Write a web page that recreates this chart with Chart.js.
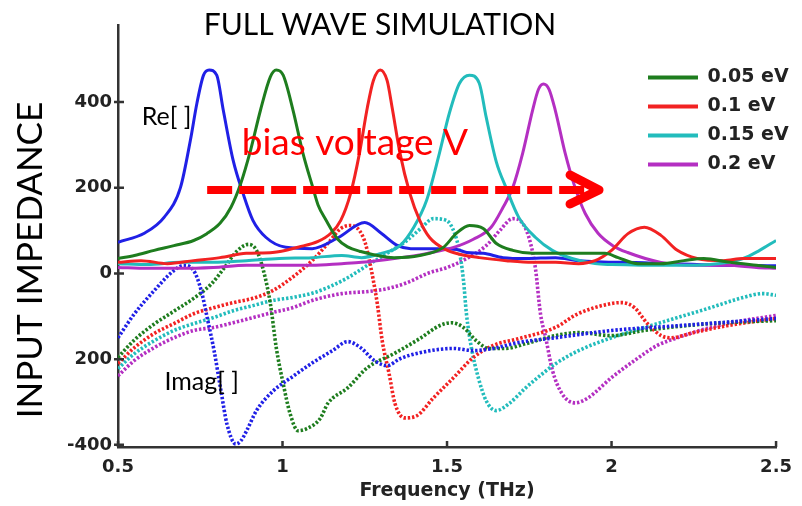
<!DOCTYPE html>
<html>
<head>
<meta charset="utf-8">
<title>Full wave simulation</title>
<script src="https://cdn.jsdelivr.net/npm/chart.js@4/dist/chart.umd.min.js"></script>
<style>
  html, body { margin: 0; padding: 0; background: #fff; }
</style>
</head>
<body>
<canvas id="impedance" width="802" height="506"></canvas>
<script>
// frequency (THz) / impedance pairs for every curve, Re = solid, Imag = dotted
const blueReF = [0.5, 0.58, 0.64, 0.69, 0.72, 0.74, 0.76, 0.777, 0.8, 0.82, 0.85, 0.88, 0.91, 0.95, 1.01, 1.09, 1.17, 1.25, 1.3, 1.35, 1.39, 1.47, 1.53, 1.56, 1.61, 1.67, 1.74, 1.83, 1.9, 2.1, 2.3, 2.5]
const blueRe = [73, 94, 131, 201, 311, 398, 463, 475, 463, 381, 264, 187, 124, 84, 61, 58, 84, 119, 94, 65, 58, 58, 56, 49, 47, 37, 35, 37, 30, 25, 20, 18]
const blueImF = [0.5, 0.55, 0.61, 0.67, 0.7, 0.73, 0.753, 0.771, 0.792, 0.813, 0.831, 0.858, 0.873, 0.891, 0.921, 0.972, 1.032, 1.092, 1.152, 1.198, 1.237, 1.279, 1.318, 1.357, 1.417, 1.52, 1.58, 1.64, 1.718, 1.829, 2.0, 2.2, 2.5]
const blueIm = [-150, -94, -40, 7, 19, 7, -40, -103, -180, -274, -351, -398, -391, -367, -320, -274, -240, -208, -180, -159, -173, -203, -215, -199, -185, -175, -180, -175, -161, -150, -133, -122, -105]

const greenReF = [0.5, 0.55, 0.61, 0.67, 0.73, 0.77, 0.81, 0.843, 0.873, 0.903, 0.933, 0.963, 0.981, 1.002, 1.032, 1.062, 1.092, 1.108, 1.132, 1.168, 1.198, 1.234, 1.339, 1.417, 1.489, 1.529, 1.568, 1.61, 1.65, 1.7, 1.76, 1.83, 1.98, 2.02, 2.08, 2.15, 2.22, 2.28, 2.36, 2.44, 2.5]
const greenRe = [35, 42, 54, 65, 77, 93, 117, 154, 210, 288, 381, 459, 475, 463, 381, 281, 201, 160, 125, 80, 62, 52, 37, 42, 61, 94, 112, 105, 70, 54, 47, 47, 47, 37, 23, 23, 30, 35, 26, 19, 14]
const greenImF = [0.5, 0.55, 0.61, 0.67, 0.73, 0.783, 0.822, 0.861, 0.897, 0.921, 0.942, 0.963, 0.981, 1.002, 1.023, 1.047, 1.071, 1.114, 1.138, 1.198, 1.258, 1.339, 1.417, 1.477, 1.514, 1.55, 1.589, 1.628, 1.679, 1.739, 1.829, 1.9, 2.0, 2.1, 2.3, 2.5]
const greenIm = [-196, -155, -118, -88, -58, -25, 12, 52, 68, 54, 7, -70, -173, -257, -327, -367, -363, -339, -303, -267, -220, -187, -152, -122, -115, -126, -157, -175, -175, -164, -145, -138, -145, -133, -117, -110]

const redReF = [0.5, 0.57, 0.65, 0.73, 0.81, 0.89, 0.97, 1.05, 1.108, 1.147, 1.177, 1.207, 1.234, 1.258, 1.276, 1.297, 1.318, 1.333, 1.357, 1.387, 1.417, 1.447, 1.498, 1.538, 1.598, 1.68, 1.76, 1.83, 1.9, 1.95, 2.0, 2.05, 2.1, 2.15, 2.2, 2.26, 2.34, 2.4, 2.5]
const redRe = [26, 30, 23, 30, 37, 47, 49, 62, 75, 94, 124, 187, 281, 388, 450, 475, 450, 388, 281, 187, 124, 84, 55, 45, 37, 30, 26, 26, 23, 30, 54, 93, 108, 89, 54, 35, 30, 35, 35]
const redImF = [0.5, 0.55, 0.61, 0.67, 0.73, 0.79, 0.85, 0.91, 0.97, 1.03, 1.09, 1.14, 1.177, 1.207, 1.234, 1.252, 1.264, 1.276, 1.288, 1.303, 1.324, 1.342, 1.372, 1.408, 1.459, 1.52, 1.58, 1.64, 1.718, 1.829, 1.898, 2.0, 2.031, 2.07, 2.109, 2.151, 2.181, 2.25, 2.35, 2.5]
const redIm = [-210, -173, -140, -117, -94, -80, -68, -58, -40, -9, 30, 72, 105, 112, 100, 70, 30, -16, -70, -157, -234, -304, -337, -332, -290, -243, -196, -168, -152, -126, -94, -70, -68, -80, -117, -145, -150, -138, -122, -105]

const cyanReF = [0.5, 0.59, 0.69, 0.79, 0.89, 0.99, 1.09, 1.18, 1.24, 1.3, 1.357, 1.399, 1.438, 1.477, 1.507, 1.538, 1.568, 1.598, 1.619, 1.65, 1.679, 1.718, 1.769, 1.82, 1.88, 1.95, 2.0, 2.2, 2.3, 2.4, 2.45, 2.5]
const cyanRe = [23, 21, 26, 26, 30, 35, 37, 42, 37, 47, 65, 108, 171, 281, 374, 444, 463, 444, 365, 260, 201, 131, 84, 54, 35, 23, 21, 19, 21, 35, 54, 77]
const cyanImF = [0.5, 0.55, 0.61, 0.67, 0.73, 0.79, 0.85, 0.91, 0.97, 1.03, 1.09, 1.14, 1.198, 1.258, 1.318, 1.378, 1.42, 1.459, 1.498, 1.523, 1.538, 1.55, 1.559, 1.574, 1.595, 1.619, 1.649, 1.688, 1.739, 1.79, 1.829, 1.9, 2.0, 2.1, 2.2, 2.3, 2.4, 2.46, 2.5]
const cyanIm = [-222, -187, -157, -133, -117, -103, -87, -75, -63, -56, -46, -32, -10, 19, 47, 77, 105, 128, 124, 94, 50, -16, -94, -173, -243, -297, -320, -304, -267, -234, -211, -180, -150, -126, -103, -80, -56, -47, -51]

const purpleReF = [0.5, 0.59, 0.69, 0.79, 0.89, 0.99, 1.09, 1.18, 1.24, 1.34, 1.44, 1.52, 1.58, 1.634, 1.67, 1.7, 1.73, 1.76, 1.778, 1.793, 1.81, 1.829, 1.859, 1.889, 1.92, 1.959, 2.004, 2.049, 2.15, 2.25, 2.35, 2.44, 2.5]
const purpleRe = [14, 12, 12, 14, 19, 19, 19, 23, 26, 35, 47, 61, 80, 108, 154, 201, 281, 381, 430, 442, 430, 381, 281, 201, 140, 94, 65, 49, 26, 19, 19, 14, 12]
const purpleImF = [0.5, 0.55, 0.61, 0.67, 0.73, 0.79, 0.85, 0.91, 0.97, 1.03, 1.09, 1.18, 1.26, 1.32, 1.38, 1.44, 1.5, 1.56, 1.619, 1.66, 1.7, 1.73, 1.754, 1.769, 1.784, 1.8, 1.82, 1.85, 1.889, 1.929, 2.0, 2.07, 2.139, 2.2, 2.3, 2.4, 2.5]
const purpleIm = [-239, -203, -173, -150, -133, -126, -115, -103, -91, -80, -63, -47, -42, -35, -21, 0, 14, 35, 65, 100, 128, 117, 70, 10, -94, -150, -225, -281, -302, -290, -243, -203, -168, -150, -126, -110, -98]

const xTicks = [0.5, 1, 1.5, 2, 2.5]
const yTicks = [-400, -200, 0, 200, 400]
const yTickLabels = ['-400', '200', '0', '200', '400']

const heading = 'FULL WAVE SIMULATION'
const yCaption = 'INPUT IMPEDANCE'
const xCaption = 'Frequency (THz)'

// notes placed in data space: [text, THz, impedance]
const notes = [
  ['Re[ ]', 0.572, 346],
  ['Imag[ ]', 0.641, -271],
  ['bias voltage V', 0.876, 276],
]
const arrowFrom = 0.771
const arrowTo = 1.962
const arrowLevel = 195

const axisFont = "'DejaVu Sans', Verdana, sans-serif"
const noteFont = "Lato, 'Open Sans', sans-serif"

Chart.defaults.font.family = axisFont

const zip = (fs, vs) => fs.map((f, i) => ({ x: f, y: vs[i] }))

const curve = (label, color, fs, vs, dotted) => ({
  label,
  data: zip(fs, vs),
  borderColor: color,
  backgroundColor: color,
  borderWidth: dotted ? 3.6 : 3,
  borderDash: dotted ? [2.4, 1.9] : [],
  pointRadius: 0,
  cubicInterpolationMode: 'monotone',
  inLegend: !dotted && label !== '',
})

const datasets = [
  curve('0.05 eV', '#1e7d1e', greenReF, greenRe, false),
  curve('0.1 eV', '#f22222', redReF, redRe, false),
  curve('0.15 eV', '#22bcbc', cyanReF, cyanRe, false),
  curve('0.2 eV', '#b42fc2', purpleReF, purpleRe, false),
  curve('', '#2020e6', blueReF, blueRe, false),
  curve('', '#2020e6', blueImF, blueIm, true),
  curve('0.05 eV', '#1e7d1e', greenImF, greenIm, true),
  curve('0.1 eV', '#f22222', redImF, redIm, true),
  curve('0.15 eV', '#22bcbc', cyanImF, cyanIm, true),
  curve('0.2 eV', '#b42fc2', purpleImF, purpleIm, true),
]

// short tick marks pointing into the plot
const innerTicks = {
  id: 'innerTicks',
  afterDraw(chart) {
    const { ctx, chartArea, scales: { x, y } } = chart
    ctx.save()
    ctx.strokeStyle = '#333'
    ctx.lineWidth = 2.5
    ctx.beginPath()
    xTicks.forEach(v => {
      const px = x.getPixelForValue(v)
      ctx.moveTo(px, chartArea.bottom)
      ctx.lineTo(px, chartArea.bottom - 6)
    })
    yTicks.forEach(v => {
      const py = y.getPixelForValue(v)
      ctx.moveTo(chartArea.left - 4, py)
      ctx.lineTo(chartArea.left + 6, py)
    })
    ctx.stroke()
    ctx.restore()
  }
}

// move the legend to the upper right corner of the plot
const legendCorner = {
  id: 'legendCorner',
  afterLayout(chart) {
    const legend = chart.legend
    legend.left = 638
    legend.top = 58
    legend.right = chart.width
    legend.bottom = chart.chartArea.bottom
  }
}

const annotations = {
  id: 'annotations',
  afterDatasetsDraw(chart) {
    const { ctx, scales: { x, y } } = chart
    ctx.save()

    ctx.fillStyle = '#000'
    ctx.textAlign = 'center'
    ctx.textBaseline = 'alphabetic'
    ctx.font = `30px ${noteFont}`
    ctx.fillText(heading, 380, 35, 372)

    ctx.save()
    ctx.translate(42, 260)
    ctx.rotate(-Math.PI / 2)
    ctx.font = `35px ${noteFont}`
    ctx.fillText(yCaption, 0, 0, 326)
    ctx.restore()

    ctx.textAlign = 'left'
    notes.forEach(([text, f, z]) => {
      const red = text.startsWith('bias')
      ctx.fillStyle = red ? '#ff0000' : '#000'
      ctx.font = red ? `37px ${noteFont}` : `25px ${noteFont}`
      ctx.fillText(text, x.getPixelForValue(f), y.getPixelForValue(z))
    })

    // dashed arrow for the bias sweep
    const x0 = x.getPixelForValue(arrowFrom)
    const x1 = x.getPixelForValue(arrowTo)
    const ya = y.getPixelForValue(arrowLevel)
    ctx.strokeStyle = '#ff0000'
    ctx.lineWidth = 8
    ctx.setLineDash([25, 7])
    ctx.beginPath()
    ctx.moveTo(x0, ya)
    ctx.lineTo(x1 - 14, ya)
    ctx.stroke()
    ctx.setLineDash([])
    ctx.lineWidth = 9
    ctx.lineCap = 'round'
    ctx.lineJoin = 'round'
    ctx.beginPath()
    ctx.moveTo(x1 - 29, ya - 15)
    ctx.lineTo(x1, ya)
    ctx.lineTo(x1 - 29, ya + 14)
    ctx.stroke()
    ctx.restore()
  }
}

new Chart(document.getElementById('impedance'), {
  type: 'line',
  data: { datasets },
  plugins: [innerTicks, legendCorner, annotations],
  options: {
    responsive: false,
    animation: false,
    layout: { padding: { top: 25, right: 19, bottom: 0, left: 0 } },
    plugins: {
      title: { display: false },
      tooltip: { enabled: false },
      legend: {
        position: 'chartArea',
        align: 'start',
        labels: {
          boxWidth: 50,
          boxHeight: 4,
          padding: 10,
          color: '#222',
          font: { size: 19, weight: 'bold' },
          filter: (item, data) => data.datasets[item.datasetIndex].inLegend,
          generateLabels: (chart) =>
            Chart.defaults.plugins.legend.labels.generateLabels(chart)
              .map(item => ({ ...item, lineWidth: 0, lineDash: [] })),
        },
      },
    },
    scales: {
      x: {
        type: 'linear',
        min: 0.5,
        max: 2.5,
        afterBuildTicks: (scale) => { scale.ticks = xTicks.map(v => ({ value: v })) },
        afterFit: (scale) => { scale.height = 59 },
        grid: { display: false, drawTicks: false },
        border: { display: true, color: '#333', width: 2.5 },
        ticks: {
          padding: 10,
          color: '#222',
          font: { size: 18, weight: 'bold' },
          callback: (value) => String(value),
        },
        title: {
          display: true,
          text: xCaption,
          color: '#222',
          font: { size: 19, weight: 'bold' },
          padding: { top: 0, bottom: 4 },
        },
      },
      y: {
        type: 'linear',
        min: -405,
        max: 580,
        afterBuildTicks: (scale) => { scale.ticks = yTicks.map(v => ({ value: v })) },
        afterFit: (scale) => { scale.width = 118 },
        grid: { display: false, drawTicks: false },
        border: { display: true, color: '#333', width: 2.5 },
        ticks: {
          padding: 6,
          color: '#222',
          font: { size: 18, weight: 'bold' },
          callback: (value) => yTickLabels[yTicks.indexOf(value)],
        },
      },
    },
  },
})
</script>
</body>
</html>
